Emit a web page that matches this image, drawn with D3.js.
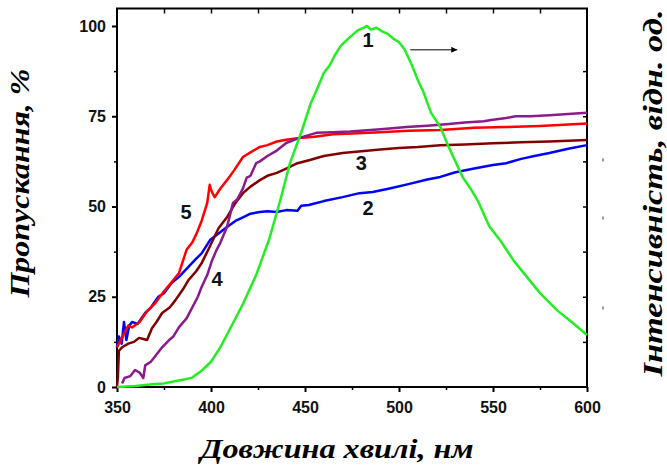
<!DOCTYPE html>
<html><head><meta charset="utf-8">
<script src="https://cdn.jsdelivr.net/npm/d3@7"></script>
<style>body{margin:0;background:#fff}svg{display:block}</style>
</head><body>
<svg id="c" width="667" height="471"></svg>
<script>
// ---- data ----
const xTicks = [350, 400, 450, 500, 550, 600];
const yTicks = [0, 25, 50, 75, 100];

const nm1 = [350,360,370,375,380,385,390,395,400,405,410,417,424,431,437,442,448,453,456,460,463,466,469,473,478,481,483,485,488,491,494,497,500,503,507,510,513,517,522,526,530,534,538,542,548,554,561,568,575,584,593,600];
const v1  = [0,0.3,0.8,1,1.5,2,2.6,4.5,7,11,16,23,31,41,52,62,70.5,78.5,82,87,89,92,94.5,96.5,98.8,99.5,100,99,99.5,98.5,97.8,96.5,95.5,93.5,89,85,81.7,76,72,67,62.5,58,55,51.5,44.5,40.5,35,30.5,26,21.3,17.5,14.4];

const nm2 = [350,351,352.5,353.7,355,356.5,358,361,365,368,372,375,379,383,388,392,395,399.5,404,408.5,413,417,421,426,430,435,440,446,448,452,460,470,479,486,495,505,515,522,530,540,550,557,565,572,580,590,600];
const v2  = [11,14,12,18,13,17,18,17.5,20.5,22,25,26,28.8,30.5,33.3,35.5,37,40.7,42.5,44.3,46,47,48,48.5,48.7,48.5,49,48.8,50.2,50.4,51.5,52.6,53.7,54,55,56.2,57.5,58.2,59.5,60.5,61.5,62,63.2,64,64.8,66,67];

const nm3 = [350,350.5,351,352.7,356,359,361.7,364,366,368.6,371,374,378,381,385,388,392,395,399,404,408.5,413,417,421,426,430,435,440,446,452.6,460,470,480,490,500,510,522,535,550,565,580,590,600];
const v3  = [0,3,10,11,12,12.5,13.6,13.3,13,16.3,18,20.5,22,24,27,29.6,32,34.3,38.5,44,47,51,53.7,55.5,57.3,58.5,59.3,60.5,62,62.9,64,64.8,65.3,65.8,66.2,66.5,67,67.2,67.5,67.8,68,68.2,68.4];

const nm4 = [352.7,354,357,359.6,362,364,365,368,370,374,377.7,380,383,387,390,393,395,398,400.5,403,405,408.5,411.7,414,417,419,421,424,426,430,435,440,447,456,465,474,485,495,504,515,525,535,545,550,557,562,570,580,590,600];
const v4  = [1,2.5,3,4.7,4,2.5,6,7,8.3,11,13,14,16.6,19,22,25,27.7,31,35,38,40,44.3,51,52,55,58,58.5,62,62.5,64,65.5,67.6,69,70.4,70.6,70.8,71.2,71.6,72,72.4,72.8,73.3,73.6,74,74.5,75,75,75.3,75.6,76];

const nm5 = [350,352,354,356,358,362,366,370,375,379,383,387,390,392.5,395,398,399.3,400.5,402,405,408.5,412,417,421,426,430,435,440,447,455,465,475,490,505,522,540,557,575,590,600];
const v5  = [11,13,15,17,16.5,18,21,23,26.5,29,31.6,38,40,42.7,46,51,56,54,52.6,55,57.3,59.8,63.7,65,66.5,67,68,68.5,69,69.3,70,70.2,70.6,71,71.2,71.8,72,72.3,72.7,73];

const seriesColors = ["#22ee22", "#0000ff", "#800000", "#8b1a8b", "#ff0000"];
const curveLabels = [
  {t:"1", nm:483.5, v:96},
  {t:"2", nm:483.5, v:49.6},
  {t:"3", nm:480, v:62},
  {t:"4", nm:403.2, v:29.9},
  {t:"5", nm:386.7, v:48.5}
];
const arrowNm = [506, 531];
const arrowV = 93.4;
const rightStubs = [62.9, 46.8, 21.9];

// ---- layout ----
const L = 117, R = 587, T = 8.5, B = 387;
const svg = d3.select("#c");
const x = d3.scaleLinear().domain([350, 600]).range([L, R]);
const y = d3.scaleLinear().domain([0, 100]).range([B, 26]);
const yR = d3.scaleLinear().domain([0, 100]).range([B, 26]);

const tickFont = "bold 16px 'Liberation Sans', Arial, sans-serif";

// frame
svg.append("rect").attr("x", L).attr("y", T).attr("width", R - L).attr("height", B - T)
  .attr("fill", "none").attr("stroke", "#000").attr("stroke-width", 2);

// bottom axis major
const gx = svg.append("g").attr("transform", `translate(0,${B})`)
  .call(d3.axisBottom(x).tickValues(xTicks).tickSize(5).tickPadding(10).tickFormat(d3.format("d")));
gx.select(".domain").remove();
gx.selectAll("line").attr("stroke-width", 2);
gx.selectAll("text").style("font", tickFont).attr("fill", "#111");
const gxm = svg.append("g").attr("transform", `translate(0,${B})`)
  .call(d3.axisBottom(x).tickValues(d3.range(375, 600, 50)).tickSize(3).tickFormat(""));
gxm.select(".domain").remove();
gxm.selectAll("line").attr("stroke-width", 1.5);

// top ticks inward
const gt = svg.append("g").attr("transform", `translate(0,${T})`)
  .call(d3.axisTop(x).tickValues(d3.range(375, 600, 25)).tickSize(-5).tickFormat(""));
gt.select(".domain").remove();
gt.selectAll("line").attr("stroke-width", 1.5);

// left axis
const gy = svg.append("g").attr("transform", `translate(${L},0)`)
  .call(d3.axisLeft(y).tickValues(yTicks).tickSize(5).tickPadding(6).tickFormat(d3.format("d")));
gy.select(".domain").remove();
gy.selectAll("line").attr("stroke-width", 2);
gy.selectAll("text").style("font", tickFont).attr("fill", "#111");
const gym = svg.append("g").attr("transform", `translate(${L},0)`)
  .call(d3.axisLeft(y).tickValues([12.5, 37.5, 62.5, 87.5]).tickSize(3).tickFormat(""));
gym.select(".domain").remove();
gym.selectAll("line").attr("stroke-width", 1.5);

// right ticks inward
const gr = svg.append("g").attr("transform", `translate(${R},0)`)
  .call(d3.axisRight(yR).tickValues(d3.range(12.5, 100, 12.5)).tickSize(-4).tickFormat(""));
gr.select(".domain").remove();
gr.selectAll("line").attr("stroke-width", 1.5);
svg.selectAll(".stub").data(rightStubs).join("line")
  .attr("x1", 603).attr("x2", 603)
  .attr("y1", d => yR(d) - 1.5).attr("y2", d => yR(d) + 1.5)
  .attr("stroke", "#333").attr("stroke-width", 1);

// curves
const line = d3.line().x(d => x(d[0])).y(d => d[2] ? yR(d[1]) : y(d[1]));
const series = [
  {nm: nm2, v: v2, c: seriesColors[1]},
  {nm: nm3, v: v3, c: seriesColors[2]},
  {nm: nm5, v: v5, c: seriesColors[4]},
  {nm: nm4, v: v4, c: seriesColors[3]},
  {nm: nm1, v: v1, c: seriesColors[0], right: true}
];
const plot = svg.append("g");
series.forEach(s => {
  const pts = s.nm.map((n, i) => [n, s.v[i], !!s.right]);
  plot.append("path").attr("d", line(pts)).attr("fill", "none")
    .attr("stroke", s.c).attr("stroke-width", 2.5).attr("stroke-linejoin", "round");
});

// curve labels
svg.selectAll(".cl").data(curveLabels).join("text")
  .attr("x", d => x(d.nm)).attr("y", d => y(d.v))
  .attr("text-anchor", "middle").attr("dominant-baseline", "central")
  .style("font", "bold 20px 'Liberation Sans', Arial, sans-serif").attr("fill", "#111")
  .text(d => d.t);

// arrow
svg.append("defs").append("marker").attr("id", "ah").attr("viewBox", "0 0 10 10")
  .attr("refX", 10).attr("refY", 5).attr("markerWidth", 8).attr("markerHeight", 6)
  .attr("markerUnits", "userSpaceOnUse").attr("orient", "auto")
  .append("path").attr("d", "M0,0L10,5L0,10z").attr("fill", "#000");
svg.append("line").attr("x1", x(arrowNm[0])).attr("x2", x(arrowNm[1])).attr("y1", y(arrowV)).attr("y2", y(arrowV))
  .attr("stroke", "#000").attr("stroke-width", 1).attr("marker-end", "url(#ah)");

// axis titles
const titleFont = "italic bold 27px 'Liberation Serif', 'Times New Roman', serif";
svg.append("text").attr("x", 337).attr("y", 458).attr("text-anchor", "middle")
  .attr("textLength", 273).attr("lengthAdjust", "spacingAndGlyphs")
  .style("font", titleFont).text("Довжина хвилі, нм");
svg.append("text").attr("transform", "translate(29,183) rotate(-90)").attr("text-anchor", "middle")
  .attr("textLength", 229).attr("lengthAdjust", "spacingAndGlyphs")
  .style("font", titleFont).text("Пропускання, %");
svg.append("text").attr("transform", "translate(662,193) rotate(-90)").attr("text-anchor", "middle")
  .attr("textLength", 367).attr("lengthAdjust", "spacingAndGlyphs")
  .style("font", titleFont).text("Інтенсивність, відн. од.");
</script>
</body></html>
